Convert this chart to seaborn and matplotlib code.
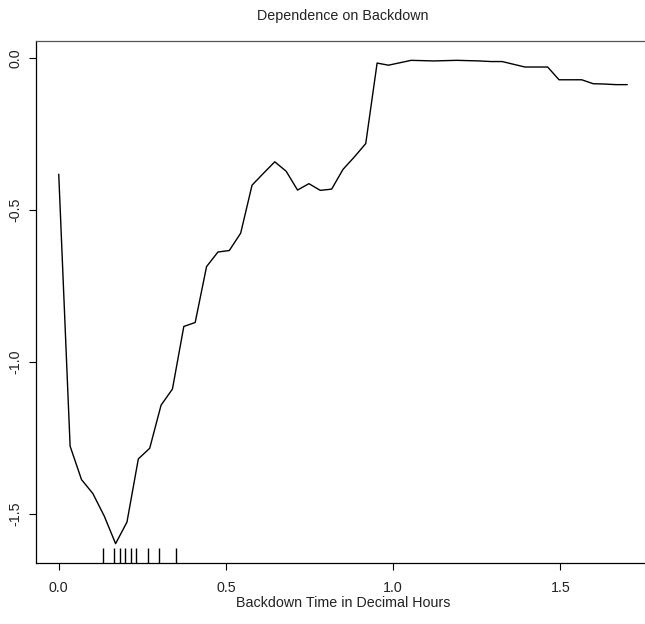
import matplotlib
matplotlib.use("Agg")
import matplotlib.pyplot as plt
import seaborn as sns
import numpy as np
import pandas as pd

# Grid of backdown times (decimal hours)
backdown_time = [0.000, 0.034, 0.068, 0.102, 0.136, 0.170, 0.204, 0.238, 0.272, 0.306,
                 0.340, 0.374, 0.408, 0.442, 0.476, 0.510, 0.544, 0.578, 0.612, 0.646,
                 0.680, 0.714, 0.748, 0.782, 0.816, 0.850, 0.884, 0.918, 0.952, 0.986,
                 1.020, 1.054, 1.088, 1.122, 1.156, 1.190, 1.224, 1.258, 1.292, 1.326,
                 1.360, 1.394, 1.428, 1.462, 1.496, 1.530, 1.564, 1.598, 1.632, 1.666,
                 1.700]
# Partial dependence
dependence = [-0.383, -1.278, -1.388, -1.434, -1.508, -1.599, -1.528, -1.320, -1.285, -1.143,
              -1.090, -0.884, -0.871, -0.687, -0.639, -0.634, -0.577, -0.419, -0.380, -0.342,
              -0.373, -0.435, -0.414, -0.436, -0.432, -0.367, -0.326, -0.282, -0.017, -0.024,
              -0.016, -0.008, -0.009, -0.010, -0.009, -0.008, -0.009, -0.010, -0.012, -0.012,
              -0.021, -0.030, -0.030, -0.030, -0.072, -0.072, -0.072, -0.085, -0.086, -0.088,
              -0.088]
# Rug (deciles of observed backdown times)
rug_values = [0.1325, 0.165, 0.183, 0.199, 0.216, 0.232, 0.267, 0.301, 0.350]

x_ticks = [0.0, 0.5, 1.0, 1.5]
x_ticklabels = ["0.0", "0.5", "1.0", "1.5"]
y_ticks = [0.0, -0.5, -1.0, -1.5]
y_ticklabels = ["0.0", "-0.5", "-1.0", "-1.5"]

title = "Dependence on Backdown"
xlabel = "Backdown Time in Decimal Hours"

sns.set_style("white")
plt.rcParams['font.family'] = ['Liberation Sans', 'DejaVu Sans']

df = pd.DataFrame({"x": backdown_time, "y": dependence})
rug_df = pd.DataFrame({"r": rug_values})

fig = plt.figure(figsize=(6.45, 6.24), dpi=100)
ax = fig.add_axes([36 / 645, (624 - 563) / 624, (650 - 36) / 645, 522 / 624])

sns.lineplot(data=df, x="x", y="y", ax=ax, color="black", linewidth=1.0, estimator=None)
sns.rugplot(data=rug_df, x="r", ax=ax, height=15 / 522, color="black", linewidth=1.0)

# R-style 4% extension of the data range
xr = max(backdown_time) - min(backdown_time)
yr = max(dependence) - min(dependence)
ax.set_xlim(min(backdown_time) - 0.04 * xr, max(backdown_time) + 0.04 * xr)
ax.set_ylim(min(dependence) - 0.04 * yr, max(dependence) + 0.04 * yr)

ax.set_xticks(x_ticks)
ax.set_xticklabels(x_ticklabels, fontsize=10.3, color="#222222")
ax.set_yticks(y_ticks)
ax.set_yticklabels(y_ticklabels, fontsize=10.3, rotation=90, va="center", color="#222222")
ax.tick_params(axis="x", direction="out", length=5, width=0.8, color="black",
               bottom=True, pad=8)
ax.tick_params(axis="y", direction="out", length=5, width=0.8, color="black",
               left=True, pad=5)
ax.set_xlabel(xlabel, fontsize=10.3, labelpad=1, color="#222222")
ax.set_ylabel("")
ax.set_title(title, fontsize=10.3, pad=15, color="#222222")

for side in ["left", "bottom", "top", "right"]:
    ax.spines[side].set_visible(True)
    ax.spines[side].set_color("black")
    ax.spines[side].set_linewidth(0.9)
ax.spines["top"].set_color("#555555")

fig.savefig("out.png", dpi=100)
